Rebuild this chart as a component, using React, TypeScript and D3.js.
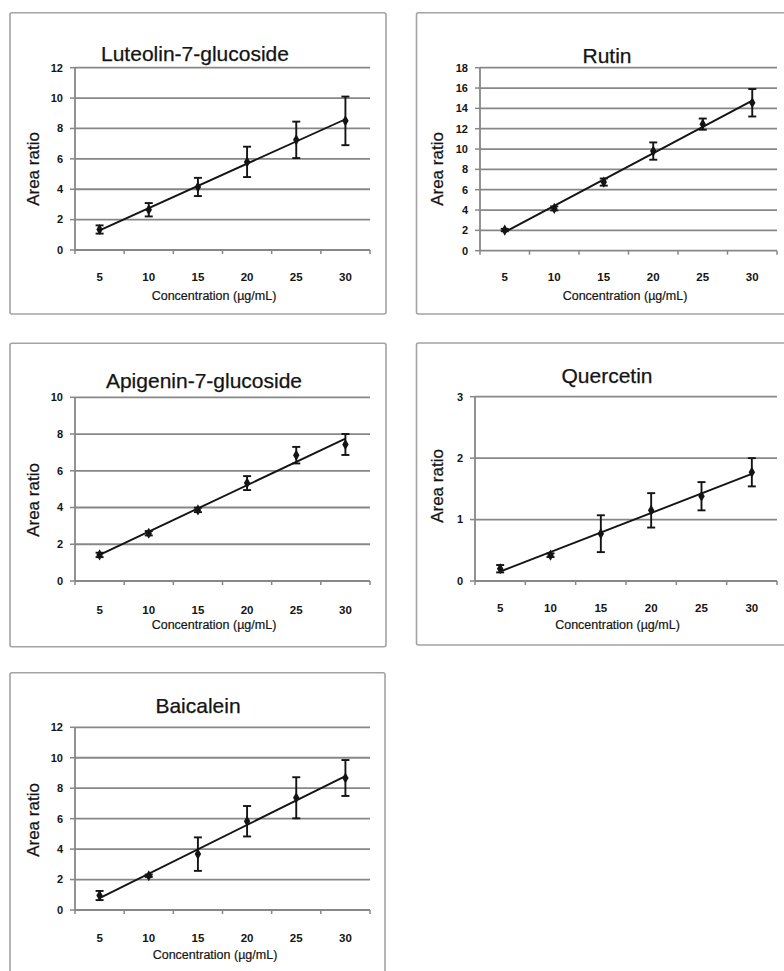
import React, { useEffect, useRef } from 'react'
import * as d3 from 'd3'

// concentrations on the category axis (µg/mL)
const concentrations = ['5', '10', '15', '20', '25', '30']

// mean area ratio and error (±)
const luteolinMean = [1.35, 2.65, 4.15, 5.8, 7.25, 8.5]
const luteolinErr = [0.27, 0.44, 0.6, 1.0, 1.2, 1.6]

const rutinMean = [2.03, 4.16, 6.75, 9.8, 12.45, 14.55]
const rutinErr = [0.12, 0.2, 0.35, 0.85, 0.55, 1.35]

const apigeninMean = [1.42, 2.6, 3.87, 5.33, 6.85, 7.43]
const apigeninErr = [0.12, 0.12, 0.12, 0.38, 0.45, 0.57]

const quercetinMean = [0.2, 0.42, 0.77, 1.15, 1.38, 1.77]
const quercetinErr = [0.06, 0.03, 0.3, 0.28, 0.23, 0.23]

const baicaleinMean = [0.95, 2.25, 3.67, 5.83, 7.37, 8.67]
const baicaleinErr = [0.3, 0.08, 1.1, 1.0, 1.35, 1.18]

// y axis tick values per panel
const ticks12 = [0, 2, 4, 6, 8, 10, 12]
const ticks18 = [0, 2, 4, 6, 8, 10, 12, 14, 16, 18]
const ticks10 = [0, 2, 4, 6, 8, 10]
const ticks3 = [0, 1, 2, 3]

const W = 784
const H = 971
const FONT = '"Liberation Sans", Arial, Helvetica, sans-serif'
const GRID = '#878787'
const INK = '#141414'

// where each panel sits on the page
const panels = [
  {
    title: 'Luteolin-7-glucoside', mean: luteolinMean, err: luteolinErr, ticks: ticks12,
    box: [10, 12.7, 386, 314], plot: [75, 67.7, 370, 250],
    titleX: 195, titleY: 61, yLabX: 33, yLabY: 169, tickY: 281, xTitX: 214, xTitY: 299.5,
  },
  {
    title: 'Rutin', mean: rutinMean, err: rutinErr, ticks: ticks18,
    box: [416.5, 12.7, 800, 314], plot: [480, 67.7, 777, 250.7],
    titleX: 607, titleY: 62.5, yLabX: 437, yLabY: 169, tickY: 281, xTitX: 625, xTitY: 299.5,
  },
  {
    title: 'Apigenin-7-glucoside', mean: apigeninMean, err: apigeninErr, ticks: ticks10,
    box: [10, 343.3, 386, 646.7], plot: [75, 397.3, 370, 581],
    titleX: 204, titleY: 388.3, yLabX: 33, yLabY: 500, tickY: 614, xTitX: 214, xTitY: 629,
  },
  {
    title: 'Quercetin', mean: quercetinMean, err: quercetinErr, ticks: ticks3,
    box: [416.5, 343, 800, 645], plot: [475, 396.7, 777, 581],
    titleX: 607, titleY: 383.3, yLabX: 437, yLabY: 486, tickY: 612, xTitX: 617.5, xTitY: 629,
  },
  {
    title: 'Baicalein', mean: baicaleinMean, err: baicaleinErr, ticks: ticks12,
    box: [10, 672.7, 385, 1000], plot: [75, 727.3, 370, 910],
    titleX: 198, titleY: 713.3, yLabX: 33, yLabY: 820, tickY: 942, xTitX: 215, xTitY: 958.5,
  },
]

function drawPanel(svg, p) {
  const [bx0, by0, bx1, by1] = p.box
  const [left, top, right, bottom] = p.plot
  const g = svg.append('g')

  g.append('rect')
    .attr('x', bx0).attr('y', by0)
    .attr('width', bx1 - bx0).attr('height', by1 - by0)
    .attr('rx', 2)
    .attr('fill', '#fff')
    .attr('stroke', '#a3a3a3')
    .attr('stroke-width', 1.6)

  const x = d3.scaleBand().domain(concentrations).range([left, right]).padding(0)
  const y = d3.scaleLinear().domain([0, d3.max(p.ticks)]).range([bottom, top])

  // horizontal gridlines
  g.selectAll('.grid')
    .data(p.ticks.filter(t => t > 0))
    .enter()
    .append('line')
    .attr('x1', left).attr('x2', right)
    .attr('y1', d => y(d)).attr('y2', d => y(d))
    .attr('stroke', GRID).attr('stroke-width', 1.8)

  // axes
  g.append('line')
    .attr('x1', left).attr('x2', right).attr('y1', y(0)).attr('y2', y(0))
    .attr('stroke', GRID).attr('stroke-width', 1.8)
  g.append('line')
    .attr('x1', left).attr('x2', left).attr('y1', y(0)).attr('y2', y(d3.max(p.ticks)))
    .attr('stroke', GRID).attr('stroke-width', 1.8)

  g.selectAll('.ytick')
    .data(p.ticks)
    .enter()
    .append('line')
    .attr('x1', left - 5).attr('x2', left)
    .attr('y1', d => y(d)).attr('y2', d => y(d))
    .attr('stroke', GRID).attr('stroke-width', 1.5)

  const bounds = concentrations.map(c => x(c)).concat([right])
  g.selectAll('.xtick')
    .data(bounds)
    .enter()
    .append('line')
    .attr('x1', d => d).attr('x2', d => d)
    .attr('y1', y(0)).attr('y2', y(0) + 4)
    .attr('stroke', GRID).attr('stroke-width', 1.5)

  g.selectAll('.ylab')
    .data(p.ticks)
    .enter()
    .append('text')
    .attr('x', left - 12)
    .attr('y', d => y(d))
    .attr('dy', '0.35em')
    .attr('text-anchor', 'end')
    .attr('font-family', FONT).attr('font-size', 11).attr('font-weight', 'bold')
    .attr('fill', INK)
    .text(d => d)

  g.selectAll('.xlab')
    .data(concentrations)
    .enter()
    .append('text')
    .attr('x', d => x(d) + x.bandwidth() / 2)
    .attr('y', p.tickY)
    .attr('text-anchor', 'middle')
    .attr('font-family', FONT).attr('font-size', 11.5).attr('font-weight', 'bold')
    .attr('fill', INK)
    .text(d => d)

  // linear trend line through the means (least squares)
  const xs = concentrations.map(Number)
  const mx = d3.mean(xs)
  const my = d3.mean(p.mean)
  const slope =
    d3.sum(xs, (v, i) => (v - mx) * (p.mean[i] - my)) / d3.sum(xs, v => (v - mx) * (v - mx))
  const fit = v => my + slope * (v - mx)
  const cx = c => x(c) + x.bandwidth() / 2
  const first = concentrations[0]
  const last = concentrations[concentrations.length - 1]
  g.append('line')
    .attr('x1', cx(first)).attr('y1', y(fit(+first)))
    .attr('x2', cx(last)).attr('y2', y(fit(+last)))
    .attr('stroke', INK).attr('stroke-width', 1.9)

  // error bars
  const pts = concentrations.map((c, i) => ({ c, m: p.mean[i], e: p.err[i] }))
  const eb = g.selectAll('.err').data(pts).enter().append('g')
  eb.append('line')
    .attr('x1', d => cx(d.c)).attr('x2', d => cx(d.c))
    .attr('y1', d => y(d.m + d.e)).attr('y2', d => y(d.m - d.e))
    .attr('stroke', INK).attr('stroke-width', 1.9)
  eb.append('line')
    .attr('x1', d => cx(d.c) - 4).attr('x2', d => cx(d.c) + 4)
    .attr('y1', d => y(d.m + d.e)).attr('y2', d => y(d.m + d.e))
    .attr('stroke', INK).attr('stroke-width', 1.9)
  eb.append('line')
    .attr('x1', d => cx(d.c) - 4).attr('x2', d => cx(d.c) + 4)
    .attr('y1', d => y(d.m - d.e)).attr('y2', d => y(d.m - d.e))
    .attr('stroke', INK).attr('stroke-width', 1.9)

  const diamond = d3.symbol().type(d3.symbolDiamond).size(36)
  g.selectAll('.pt')
    .data(pts)
    .enter()
    .append('path')
    .attr('d', diamond)
    .attr('transform', d => `translate(${cx(d.c)},${y(d.m)})`)
    .attr('fill', INK)

  // titles
  g.append('text')
    .attr('x', p.titleX).attr('y', p.titleY)
    .attr('text-anchor', 'middle')
    .attr('font-family', FONT).attr('font-size', 21)
    .attr('fill', INK)
    .attr('stroke', INK).attr('stroke-width', 0.25)
    .text(p.title)

  g.append('text')
    .attr('transform', `translate(${p.yLabX},${p.yLabY}) rotate(-90)`)
    .attr('dy', '0.35em')
    .attr('text-anchor', 'middle')
    .attr('font-family', FONT).attr('font-size', 17)
    .attr('fill', INK)
    .attr('stroke', INK).attr('stroke-width', 0.25)
    .text('Area ratio')

  g.append('text')
    .attr('x', p.xTitX).attr('y', p.xTitY)
    .attr('text-anchor', 'middle')
    .attr('font-family', FONT).attr('font-size', 12.5)
    .attr('fill', INK)
    .attr('stroke', INK).attr('stroke-width', 0.2)
    .text('Concentration (µg/mL)')
}

export default function App() {
  const ref = useRef(null)

  useEffect(() => {
    const svg = d3.select(ref.current)
    svg.selectAll('*').remove()
    svg.append('rect').attr('width', W).attr('height', H).attr('fill', '#fff')
    panels.forEach(p => drawPanel(svg, p))
  }, [])

  return (
    <svg
      ref={ref}
      width={W}
      height={H}
      style={{ position: 'absolute', left: 0, top: 0, display: 'block' }}
    />
  )
}
